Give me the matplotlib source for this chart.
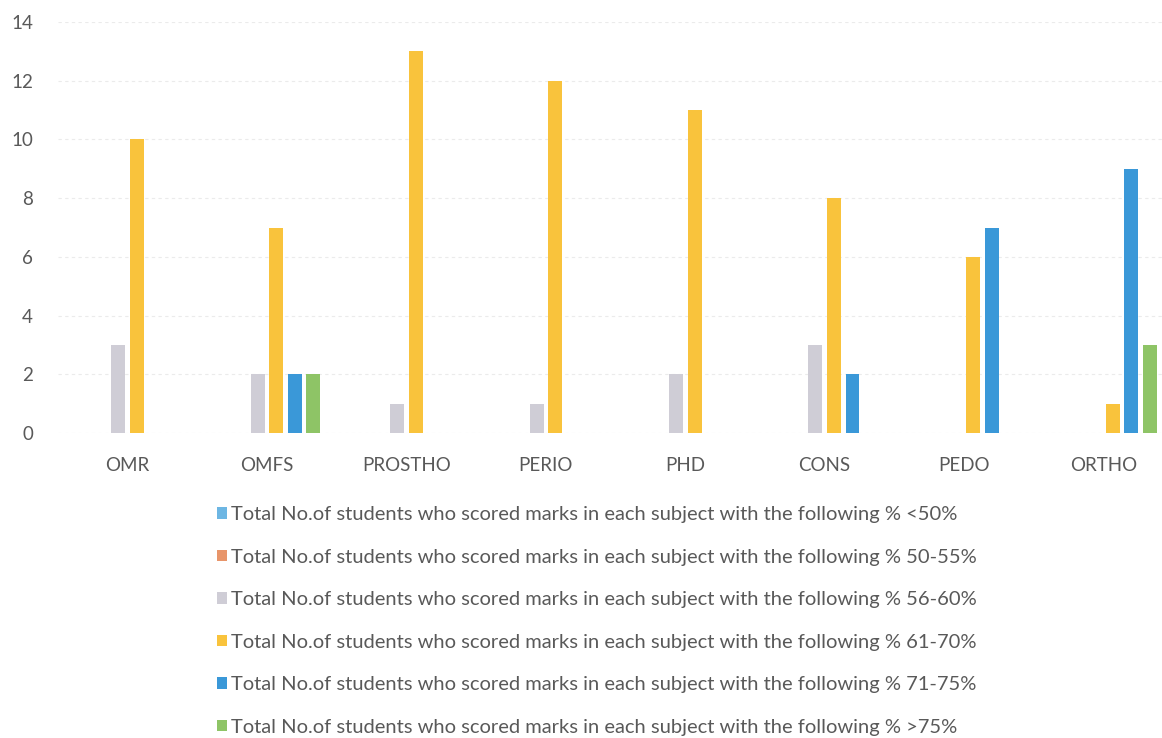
import matplotlib
matplotlib.use("Agg")
import matplotlib.pyplot as plt
import numpy as np
from matplotlib.patches import Patch

categories = ["OMR", "OMFS", "PROSTHO", "PERIO", "PHD", "CONS", "PEDO", "ORTHO"]
series_labels = [
    "Total No.of students who scored marks in each subject with the following % <50%",
    "Total No.of students who scored marks in each subject with the following % 50-55%",
    "Total No.of students who scored marks in each subject with the following % 56-60%",
    "Total No.of students who scored marks in each subject with the following % 61-70%",
    "Total No.of students who scored marks in each subject with the following % 71-75%",
    "Total No.of students who scored marks in each subject with the following % >75%",
]
lt50 = [0, 0, 0, 0, 0, 0, 0, 0]
r50_55 = [0, 0, 0, 0, 0, 0, 0, 0]
r56_60 = [3, 2, 1, 1, 2, 3, 0, 0]
r61_70 = [10, 7, 13, 12, 11, 8, 6, 1]
r71_75 = [0, 2, 0, 0, 0, 2, 7, 9]
gt75 = [0, 2, 0, 0, 0, 0, 0, 3]
series = [lt50, r50_55, r56_60, r61_70, r71_75, gt75]
colors = ["#6DB6E3", "#E8956A", "#CFCDD6", "#F9C33C", "#3A98D8", "#8EC466"]

plt.rcParams['font.family'] = ['Lato', 'DejaVu Sans']
fig = plt.figure(figsize=(11.62, 7.38), dpi=100)
ax = fig.add_axes([58/1162, 1-433/738, 1 - 58/1162, (433-22)/738])

x = np.arange(len(categories))
step = 0.133
width = 0.1
for i, (vals, c) in enumerate(zip(series, colors)):
    ax.bar(x + (i - 2.5) * step, vals, width=width, color=c, zorder=3)

ax.set_ylim(0, 14)
ax.set_yticks(range(0, 15, 2))
ax.set_xlim(-0.5, len(categories) - 0.5 - 0.08)
ax.set_xticks(x)
ax.set_xticklabels(categories)
for s in ax.spines.values():
    s.set_visible(False)
ax.tick_params(axis='both', length=0, labelsize=13.5, labelcolor="#595959")
ax.tick_params(axis='x', pad=17)
ax.tick_params(axis='y', pad=18)
ax.yaxis.grid(True, color="#EBEBEB", linestyle=(0, (3, 3)), linewidth=0.8, zorder=0)

handles = [Patch(facecolor=c, edgecolor='none') for c in colors]
leg = fig.legend(handles, series_labels, loc='upper left', bbox_to_anchor=(217/1162, 1-506/738),
                 frameon=False, fontsize=14.5, labelcolor="#595959",
                 handlelength=0.5, handleheight=0.5, handletextpad=0.2, labelspacing=1.27,
                 borderaxespad=0, borderpad=0)

fig.savefig("out.png", dpi=100)
